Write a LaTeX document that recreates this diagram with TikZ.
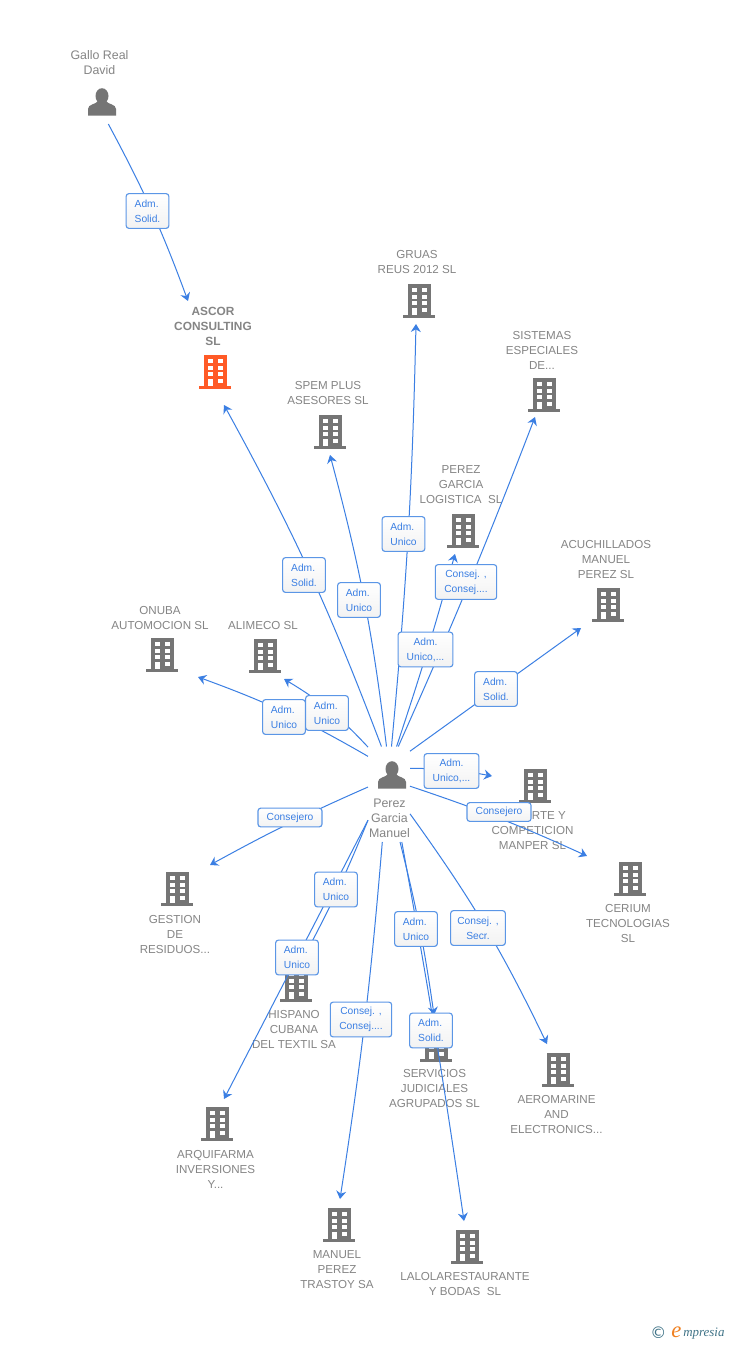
\documentclass[tikz,border=0pt]{standalone}
\usepackage{fontspec}
\setmainfont{Liberation Sans}
\newfontfamily\logofont{Liberation Serif}
\newfontfamily\symfont{DejaVu Sans}
\usetikzlibrary{arrows.meta}
\definecolor{linkblue}{HTML}{3B7FE3}
\definecolor{boxblue}{HTML}{5B96E6}
\definecolor{labelgrey}{HTML}{858585}
\definecolor{icongrey}{HTML}{757575}
\definecolor{iconorange}{HTML}{FF5A26}
\definecolor{logoblue}{HTML}{3F7387}
\definecolor{logoorange}{HTML}{F08020}
\tikzset{
  x=0.75pt,y=-0.75pt,
  bldg/.style={minimum width=24pt,minimum height=25.5pt,inner sep=0pt,outer sep=0pt,
    path picture={\begin{scope}[shift={(path picture bounding box.center)}]
      \fill[#1] (-11.5,-16.7) rectangle (11.5,14);
      \fill[#1] (-16,14) rectangle (16,16.7);
      \foreach \cy in {-12.7,-6,0.3}{
        \fill[white] (-6.7,\cy) rectangle (-2,\cy+4);
        \fill[white] (2.8,\cy) rectangle (7.7,\cy+4);}
      \fill[white] (-6.7,6.7) rectangle (-2,14);
      \fill[white] (2.8,6.7) rectangle (7.7,10.7);
    \end{scope}}},
  persona/.style={minimum width=21pt,minimum height=21pt,inner sep=0pt,outer sep=0pt,
    path picture={\begin{scope}[shift={(path picture bounding box.center)}]
      \fill[icongrey] (0,-6) ellipse (6.5 and 7.8);
      \fill[icongrey] (-14,13.5) -- (-14,7) .. controls (-14,2) and (-6,2.5) .. (-4,-1)
        -- (4,-1) .. controls (6,2.5) and (14,2) .. (14,7) -- (14,13.5) -- cycle;
    \end{scope}}},
  txt/.style={align=center,inner sep=0pt,text=labelgrey,font=\fontsize{8.7}{11.25}\selectfont},
  txtbold/.style={txt,font=\fontsize{8.9}{11.25}\selectfont\bfseries},
  ptxt/.style={align=center,inner sep=0pt,text=labelgrey,font=\fontsize{9.3}{11.25}\selectfont},
  link/.style={draw=linkblue,line width=0.75pt,-{Stealth[length=6pt,width=7.5pt,inset=2pt]}},
  rel/.style={draw=boxblue,line width=0.85pt,rounded corners=2pt,top color=white,bottom color=white!95!black,
    text=linkblue,align=center,inner sep=0pt,minimum height=26pt,
    font=\fontsize{7.7}{11.25}\selectfont},
  relleft/.style={rel,align=left},
  relone/.style={rel,minimum height=14pt}
}
\begin{document}
\begin{tikzpicture}
\useasboundingbox (0,0) rectangle (728,1345);
\fill[white] (0,0) rectangle (728,1345);
% entity icons
\node[persona] (gallo) at (102,102) {};
\node[persona] (perezicon) at (392,775) {};
\node[bldg=iconorange] (ascor) at (215,372) {};
\node[bldg=icongrey] (gruas) at (419,301) {};
\node[bldg=icongrey] (sistemas) at (544,395) {};
\node[bldg=icongrey] (spem) at (330,432) {};
\node[bldg=icongrey] (logistica) at (463,531) {};
\node[bldg=icongrey] (acuch) at (608,605) {};
\node[bldg=icongrey] (onuba) at (162,655) {};
\node[bldg=icongrey] (alimeco) at (265,656) {};
\node[bldg=icongrey] (deporte) at (535,786) {};
\node[bldg=icongrey] (cerium) at (630,879) {};
\node[bldg=icongrey] (gestion) at (177,889) {};
\node[bldg=icongrey] (hispano) at (296,985) {};
\node[bldg=icongrey] (servicios) at (436,1045) {};
\node[bldg=icongrey] (aero) at (558,1070) {};
\node[bldg=icongrey] (arqui) at (217,1124) {};
\node[bldg=icongrey] (manuel) at (339,1225) {};
\node[bldg=icongrey] (lalola) at (467,1247) {};
% entity labels
\node[ptxt] (tgallo) at (99.5,62.5) {Gallo Real\\David};
\node[ptxt] (tperez) at (389.5,818) {Perez\\Garcia\\Manuel};
\node[txtbold] (tascor) at (213,326) {ASCOR\\CONSULTING\\SL};
\node[txt] (tgruas) at (417,262.5) {GRUAS\\REUS 2012 SL};
\node[txt] (tsistemas) at (542,350) {SISTEMAS\\ESPECIALES\\DE...};
\node[txt] (tspem) at (328,393.5) {SPEM PLUS\\ASESORES SL};
\node[txt] (tlogistica) at (461,485) {PEREZ\\GARCIA\\LOGISTICA\ \ SL};
\node[txt] (tacuch) at (606,560) {ACUCHILLADOS\\MANUEL\\PEREZ SL};
\node[txt] (tonuba) at (160,617.5) {ONUBA\\AUTOMOCION SL};
\node[txt] (talimeco) at (263,625) {ALIMECO SL};
\node[txt] (tdeporte) at (532.5,830) {DEPORTE Y\\COMPETICION\\MANPER SL};
\node[txt] (tcerium) at (628,923) {CERIUM\\TECNOLOGIAS\\SL};
\node[txt] (tgestion) at (175,934) {GESTION\\DE\\RESIDUOS...};
\node[txt] (thispano) at (294,1029) {HISPANO\\CUBANA\\DEL TEXTIL SA};
\node[txt] (tservicios) at (434.5,1088) {SERVICIOS\\JUDICIALES\\AGRUPADOS SL};
\node[txt] (taero) at (556.5,1114) {AEROMARINE\\AND\\ELECTRONICS...};
\node[txt] (tarqui) at (215.5,1169) {ARQUIFARMA\\INVERSIONES\\Y...};
\node[txt] (tmanuel) at (337,1270) {MANUEL\\PEREZ\\TRASTOY SA};
\node[txt] (tlalola) at (465,1283.5) {LALOLARESTAURANTE\\Y BODAS\ \ SL};
% hubs around the persons, connectors start on their border
\node[minimum width=31.5pt,minimum height=71.6pt,inner sep=0pt,outer sep=0pt] (perez) at (389,794.25) {};
\node[minimum width=30pt,minimum height=33pt,inner sep=0pt,outer sep=0pt] (gallohub) at (102,102) {};
% arrow ends
\coordinate (eascor) at (188,301);
\coordinate (eascor2) at (224,405);
\coordinate (espem) at (330,455);
\coordinate (egruas) at (416,324);
\coordinate (elog) at (455,554);
\coordinate (esist) at (535,417);
\coordinate (eacuch) at (581,628);
\coordinate (edep) at (492,776);
\coordinate (ecer) at (587,856);
\coordinate (eaero) at (547,1044);
\coordinate (eserv) at (434,1015);
\coordinate (elal) at (464,1221);
\coordinate (eman) at (340,1199);
\coordinate (earq) at (224,1099);
\coordinate (ehis) at (300,964);
\coordinate (eges) at (210,865);
\coordinate (eali) at (284,679);
\coordinate (eonu) at (198,677);
% connectors
\draw[link] (gallohub.-74.7) to[bend left=4] (eascor);
\draw[link] (perez.99.5) to[bend right=4] (eascor2);
\draw[link] (perez.93.6) to[bend right=4] (espem);
\draw[link] (perez.87.6) to[bend right=2] (egruas);
\draw[link] (perez.81.7) to[bend right=1.5] (elog);
\draw[link] (perez.79.9) to[bend right=1.5] (esist);
\draw[link] (perez.64.1) -- (eacuch);
\draw[link] (perez.51.3) to[bend left=5] (edep);
\draw[link] (perez.21.4) to[bend left=3] (ecer);
\draw[link] (perez.-43.2) to[bend left=5] (eaero);
\draw[link] (perez.-77) to[bend left=3] (eserv);
\draw[link] (perez.-75.5) to[bend left=1] (elal);
\draw[link] (perez.-98.3) to[bend left=2] (eman);
\draw[link] (perez.231.9) -- (earq);
\draw[link] (perez.231.5) to[bend left=3] (ehis);
\draw[link] (perez.161) to[bend right=2.5] (eges);
\draw[link] (perez.114) to[bend right=8] (eali);
\draw[link] (perez.119.4) to[bend right=5] (eonu);
% relation labels
\node[relleft,minimum width=32pt] (r1) at (147.5,211) {Adm.\\Solid.};
\node[relleft,minimum width=32pt] (r2) at (304,575) {Adm.\\Solid.};
\node[relleft,minimum width=32pt] (r3) at (359,600) {Adm.\\Unico};
\node[relleft,minimum width=32pt] (r4) at (403.5,534) {Adm.\\Unico};
\node[rel,minimum width=41pt] (r5) at (425.5,649.5) {Adm.\\Unico,...};
\node[rel,minimum width=46pt] (r6) at (466,582) {Consej. ,\\Consej....};
\node[relleft,minimum width=32pt] (r7) at (496,689) {Adm.\\Solid.};
\node[rel,minimum width=41pt] (r8) at (451.5,771) {Adm.\\Unico,...};
\node[relone,minimum width=48pt] (r9) at (499,812) {Consejero};
\node[rel,minimum width=41pt] (r10) at (478,928) {Consej. ,\\Secr.};
\node[relleft,minimum width=32pt] (r11) at (416,929) {Adm.\\Unico};
\node[relleft,minimum width=32pt] (r12) at (431,1030.5) {Adm.\\Solid.};
\node[rel,minimum width=46pt] (r13) at (361,1019.5) {Consej. ,\\Consej....};
\node[relleft,minimum width=32pt] (r14) at (297,957.5) {Adm.\\Unico};
\node[relleft,minimum width=32pt] (r15) at (336,889.5) {Adm.\\Unico};
\node[relone,minimum width=48pt] (r16) at (290,817.5) {Consejero};
\node[relleft,minimum width=32pt] (r17) at (327,713) {Adm.\\Unico};
\node[relleft,minimum width=32pt] (r18) at (284,717) {Adm.\\Unico};
% logo
\node[inner sep=0pt,anchor=west,text=logoblue,font=\symfont\fontsize{12}{12}\selectfont] (logoc) at (650,1333) {©};
\node[inner sep=0pt,anchor=west,text=logoorange,font=\logofont\itshape\fontsize{17}{17}\selectfont] (logoe) at (671,1332) {e};
\node[inner sep=0pt,anchor=west,text=logoblue,font=\logofont\itshape\fontsize{9.7}{11}\selectfont] (logot) at (683,1334) {mpresia};
\end{tikzpicture}
\end{document}
